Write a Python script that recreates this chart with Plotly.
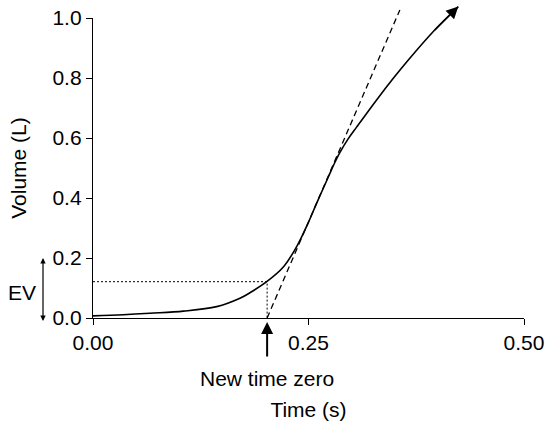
import plotly.graph_objects as go

# Volume-time curve (s, L)
time_s = [0, 0.035, 0.066, 0.105, 0.1435, 0.1705, 0.182, 0.2015, 0.2208, 0.2363, 0.2498,
          0.2595, 0.273, 0.28, 0.2865, 0.296, 0.306, 0.329, 0.3484, 0.3658, 0.3948, 0.4238]
volume_l = [0.007, 0.011, 0.016, 0.023, 0.038, 0.066, 0.084, 0.121, 0.17, 0.238, 0.318,
            0.383, 0.47, 0.515, 0.552, 0.597, 0.637, 0.727, 0.799, 0.86, 0.955, 1.038]

# Back-extrapolated tangent line
tangent_t = [0.202, 0.356]
tangent_v = [0.0, 1.027]

# Extrapolated volume (EV) construction
new_time_zero = 0.202
ev_value = 0.121

x_ticks = [0.0, 0.25, 0.5]
x_ticklabels = ["0.00", "0.25", "0.50"]
y_ticks = [0.0, 0.2, 0.4, 0.6, 0.8, 1.0]
y_ticklabels = ["0.0", "0.2", "0.4", "0.6", "0.8", "1.0"]

FONT = "Arial, Liberation Sans, sans-serif"
FS = 21
W, H = 546, 423
ML, MB = 93, 105
PW, PH = W - ML, H - MB
XD = 431 / PW   # main x domain end
YD = 300 / PH   # main y domain end

fig = go.Figure()

# dotted EV guides
fig.add_trace(go.Scatter(x=[0, new_time_zero, new_time_zero], y=[ev_value, ev_value, 0],
                         mode="lines", line=dict(color="black", width=1, dash="2px,2px"),
                         xaxis="x2", yaxis="y2", hoverinfo="skip"))
# tangent
fig.add_trace(go.Scatter(x=tangent_t, y=tangent_v, mode="lines",
                         line=dict(color="black", width=1.3, dash="6px,4px"),
                         xaxis="x2", yaxis="y2", hoverinfo="skip"))
# volume curve
fig.add_trace(go.Scatter(x=time_s, y=volume_l, mode="lines",
                         line=dict(color="black", width=1.6, shape="spline", smoothing=1.0),
                         xaxis="x2", yaxis="y2", hoverinfo="skip"))

annotations = [
    # curve arrowhead
    dict(x=time_s[-1], y=volume_l[-1], ax=time_s[-2], ay=volume_l[-2],
         xref="x2", yref="y2", axref="x2", ayref="y2", text="", showarrow=True,
         arrowhead=2, arrowsize=1.6, arrowwidth=1.5, arrowcolor="black", standoff=0),
    # new time zero arrow
    dict(x=new_time_zero, y=-4 / PH, xref="x", yref="paper", ax=0, ay=36,
         text="", showarrow=True, arrowhead=2, arrowsize=1.2, arrowwidth=2,
         arrowcolor="black", standoff=0),
    dict(x=new_time_zero, y=(PH - 378) / PH, xref="x", yref="paper", text="New time zero",
         showarrow=False, font=dict(family=FONT, size=FS, color="black"),
         xanchor="center", yanchor="middle"),
    # EV double arrow
    dict(x=-50 / PW, y=0.2, xref="paper", yref="y", ax=0, ay=-0.015, axref="pixel", ayref="y",
         text="", showarrow=True, arrowhead=2, startarrowhead=2, arrowside="end+start",
         arrowsize=0.9, startarrowsize=0.9, arrowwidth=1.2, arrowcolor="black", standoff=0,
         startstandoff=0),
    dict(x=-71 / PW, y=(PH - 292) / PH, xref="paper", yref="paper", text="EV",
         showarrow=False, font=dict(family=FONT, size=FS, color="black"),
         xanchor="center", yanchor="middle"),
]

fig.update_layout(
    width=W, height=H,
    margin=dict(l=ML, r=0, t=0, b=MB, pad=0, autoexpand=False),
    paper_bgcolor="white", plot_bgcolor="rgba(0,0,0,0)",
    showlegend=False,
    font=dict(family=FONT, size=FS, color="black"),
    xaxis=dict(domain=[0, XD], range=[0, 0.5], tickvals=x_ticks, ticktext=x_ticklabels,
               showgrid=False, zeroline=False, showline=True, linecolor="black", linewidth=1.3,
               ticks="outside", ticklen=6, tickwidth=1.3, tickcolor="black",
               title=dict(text="Time (s)", standoff=48, font=dict(size=FS)),
               automargin=False, anchor="y"),
    yaxis=dict(domain=[0, YD], range=[0, 1.0], tickvals=y_ticks, ticktext=y_ticklabels,
               showgrid=False, zeroline=False, showline=True, linecolor="black", linewidth=1.3,
               ticks="outside", ticklen=6, tickwidth=1.3, tickcolor="black",
               title=dict(text="Volume (L)", standoff=20, font=dict(size=FS)),
               automargin=False, anchor="x"),
    xaxis2=dict(domain=[0, 1], range=[0, 0.5 / XD], visible=False, anchor="y2"),
    yaxis2=dict(domain=[0, 1], range=[0, 1.0 / YD], visible=False, anchor="x2"),
    annotations=annotations,
)

fig.write_html("out.html")
